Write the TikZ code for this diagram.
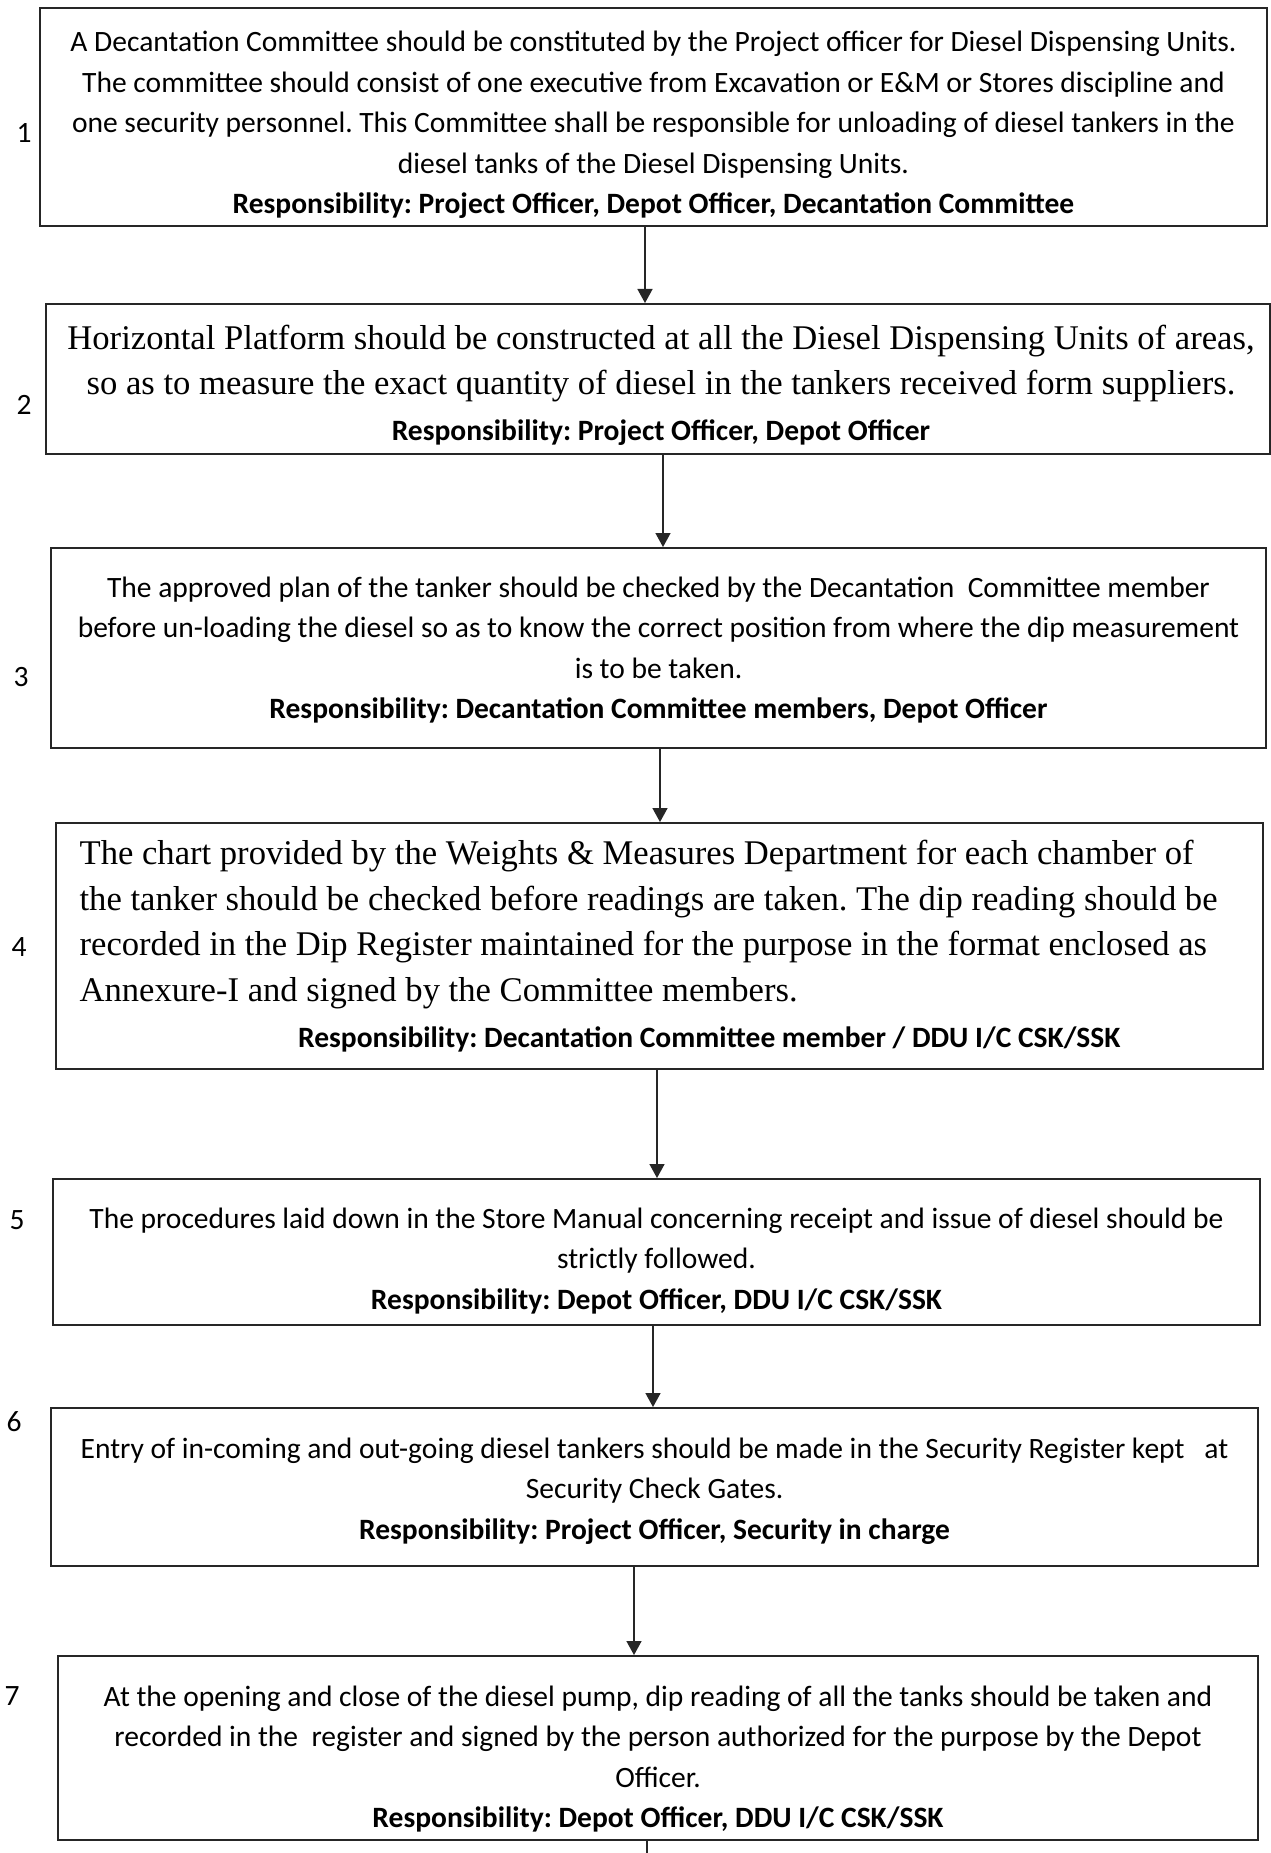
\documentclass[tikz,border=0pt]{standalone}
\usepackage{fontspec}
\setmainfont{Carlito}
\newfontfamily\timesfont{Liberation Serif}
\usetikzlibrary{arrows.meta, calc}
\frenchspacing
\newcommand{\sansbody}{\fontsize{16.8}{23.1}\selectfont}
\newcommand{\serifbody}{\timesfont\fontsize{19.7}{26}\selectfont}
\newcommand{\resp}[1]{{\normalfont\sansbody\bfseries Responsibility: #1}}
\tikzset{
  stepbox/.style={rectangle, draw=black!85, line width=1.1pt, inner sep=0pt},
  steptext/.style={inner sep=0pt, align=center, font=\sansbody},
  seriftext/.style={steptext, font=\serifbody},
  numlabel/.style={font=\sansbody, inner sep=0pt},
  arr/.style={-{Triangle[length=8pt, width=8.5pt]}, line width=1pt, color=black!85}
}

\begin{document}
\begin{tikzpicture}[x=0.02cm, y=-0.02cm]

  \useasboundingbox (0,0) rectangle (1271,1853);

  % step boxes
  \node[stepbox, minimum width=24.54cm, minimum height=4.36cm] (b1) at (653.5,117)  {};
  \node[stepbox, minimum width=24.48cm, minimum height=3.00cm] (b2) at (658,379)    {};
  \node[stepbox, minimum width=24.30cm, minimum height=4.00cm] (b3) at (658.5,648)  {};
  \node[stepbox, minimum width=24.14cm, minimum height=4.92cm] (b4) at (659.5,946)  {};
  \node[stepbox, minimum width=24.14cm, minimum height=2.92cm] (b5) at (656.5,1252) {};
  \node[stepbox, minimum width=24.14cm, minimum height=3.16cm] (b6) at (654.5,1487) {};
  \node[stepbox, minimum width=24.00cm, minimum height=3.68cm] (b7) at (658,1748)   {};

  % step texts
  \node[steptext] (t1) at ($(b1)+(0,8)$)
    {A Decantation Committee should be constituted by the Project officer for Diesel Dispensing Units.\\
     The committee should consist of one executive from Excavation or E\&M or Stores discipline and\\
     one security personnel. This Committee shall be responsible for unloading of diesel tankers in the\\
     diesel tanks of the Diesel Dispensing Units.\\
     \resp{Project Officer, Depot Officer, Decantation Committee}};
  \node[seriftext] (t2) at ($(b2)+(3,6)$)
    {Horizontal Platform should be constructed at all the Diesel Dispensing Units of areas,\\
     so as to measure the exact quantity of diesel in the tankers received form suppliers.\\
     \resp{Project Officer, Depot Officer}};
  \node[steptext] (t3) at ($(b3)+(0,2)$)
    {The approved plan of the tanker should be checked by the Decantation\ \ Committee member\\
     before un-loading the diesel so as to know the correct position from where the dip measurement\\
     is to be taken.\\
     \resp{Decantation Committee members, Depot Officer}};
  \node[seriftext, align=left, text width=23.2cm] (t4) at (b4)
    {\spaceskip=0pt\xspaceskip=0pt
     The chart provided by the Weights \& Measures Department for each chamber of\\
     the tanker should be checked before readings are taken. The dip reading should be\\
     recorded in the Dip Register maintained for the purpose in the format enclosed as\\
     Annexure-I and signed by the Committee members.\\
     \hspace*{4.37cm}\resp{Decantation Committee member / DDU I/C CSK/SSK}};
  \node[steptext] (t5) at ($(b5)+(0,9)$)
    {The procedures laid down in the Store Manual concerning receipt and issue of diesel should be\\
     strictly followed.\\
     \resp{Depot Officer, DDU I/C CSK/SSK}};
  \node[steptext] (t6) at ($(b6)+(0,4)$)
    {Entry of in-coming and out-going diesel tankers should be made in the Security Register kept\ \ \ at\\
     Security Check Gates.\\
     \resp{Project Officer, Security in charge}};
  \node[steptext] (t7) at ($(b7)+(0,11)$)
    {At the opening and close of the diesel pump, dip reading of all the tanks should be taken and\\
     recorded in the\ \ register and signed by the person authorized for the purpose by the Depot\\
     Officer.\\
     \resp{Depot Officer, DDU I/C CSK/SSK}};

  % step numbers
  \node[numlabel] (n1) at (24,133)  {1};
  \node[numlabel] (n2) at (24,405)  {2};
  \node[numlabel] (n3) at (21,677)  {3};
  \node[numlabel] (n4) at (19,947)  {4};
  \node[numlabel] (n5) at (17,1220) {5};
  \node[numlabel] (n6) at (14,1422) {6};
  \node[numlabel] (n7) at (12,1696) {7};

  \foreach \a/\b/\x in {b1/b2/645, b2/b3/663, b3/b4/660, b4/b5/657, b5/b6/653, b6/b7/634}
    \draw[arr] (\x,0 |- \a.south) -- (\x,0 |- \b.north);

  \coordinate (tail) at (647,1853);
  \draw[line width=1pt, black!85] (tail |- b7.south) -- (tail);

\end{tikzpicture}
\end{document}
